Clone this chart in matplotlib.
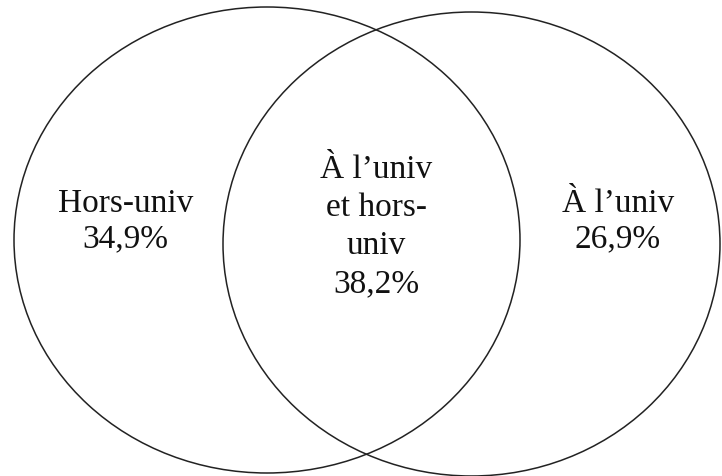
import matplotlib
matplotlib.use("Agg")
import matplotlib.pyplot as plt
from matplotlib.patches import Ellipse

# Data
regions = ["Hors-univ", "À l’univ et hors-univ", "À l’univ"]
region_lines = [["Hors-univ"], ["À l’univ", "et hors-", "univ"], ["À l’univ"]]
percentages = [34.9, 38.2, 26.9]

# Layout (pixel space)
W, H = 722, 476
ellipses = [  # (cx, cy, width, height)
    (267, 240, 506, 466),
    (471.5, 244, 497, 464),
]
text_x = [125.5, 376, 618]
text_first_baseline = [212, 178, 212]
line_step = [35, 38, 35]

fig = plt.figure(figsize=(W / 100, H / 100), dpi=100)
ax = fig.add_axes([0, 0, 1, 1])
ax.set_xlim(0, W)
ax.set_ylim(H, 0)
ax.axis("off")

for cx, cy, w, h in ellipses:
    ax.add_patch(Ellipse((cx, cy), w, h, fill=False, edgecolor="#222222", linewidth=1.1))

def fmt(v):
    return f"{v:.1f}".replace(".", ",") + "%"

for x, y0, step, lines, val in zip(text_x, text_first_baseline, line_step, region_lines, percentages):
    all_lines = lines + [fmt(val)]
    for i, t in enumerate(all_lines):
        ax.text(x, y0 + i * step, t, ha="center", va="baseline",
                fontsize=24, family="Liberation Serif", color="#111111")

fig.savefig("out.png", dpi=100)
